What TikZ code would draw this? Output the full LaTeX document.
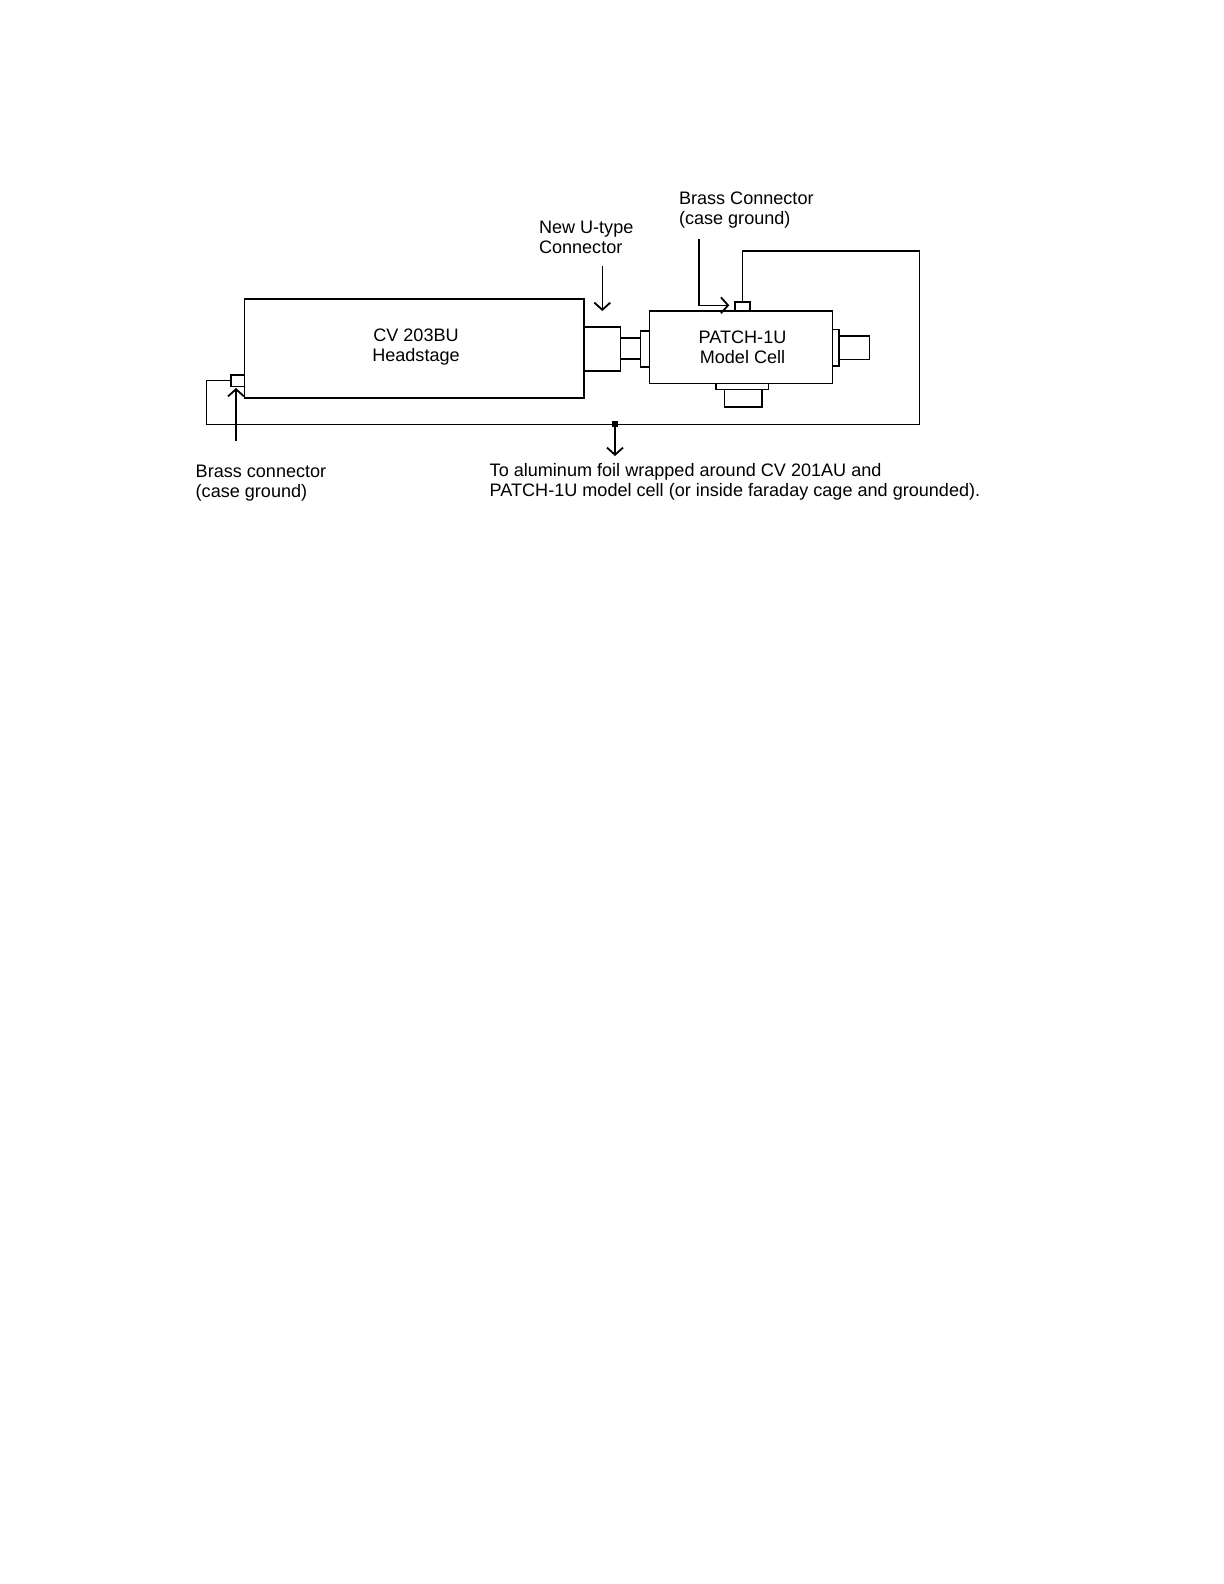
\documentclass[tikz,border=0pt]{standalone}
\usepackage{fontspec}
\setmainfont{Liberation Sans}
\usetikzlibrary{arrows.meta}

\tikzset{
	partbox/.style={draw, line width=0.8pt, fill=white, inner sep=0pt, outer sep=0pt, anchor=north west},
	wire/.style={draw, line width=0.8pt},
	pointer/.style={line width=0.8pt, -{Straight Barb[length=3.6pt, width=8pt, line width=0.9pt]}},
	caption/.style={inner sep=0pt, outer sep=0pt, align=left, anchor=north west, font=\fontsize{9.07}{10.04}\selectfont},
	boxtext/.style={inner sep=0pt, outer sep=0pt, align=center, anchor=north, font=\fontsize{9.07}{10.04}\selectfont}
}
\newcommand{\partat}[5]{\node[partbox, minimum width=#4*0.5bp, minimum height=#5*0.5bp] (#1) at (#2,#3) {};}

\begin{document}
\begin{tikzpicture}[x=0.5bp, y=-0.5bp]
	\useasboundingbox (0,0) rectangle (1224,1584);

	\coordinate (wireSW) at (206.3,424.3);
	\coordinate (wireSE) at (919.3,424.3);
	\coordinate (wireNE) at (919.3,251);

	\partat{head}{244.3}{299}{339.7}{99}
	\partat{ucon}{584}{326.7}{36.3}{44}
	\partat{neck}{620.3}{338}{20}{20.7}
	\partat{lflange}{640.3}{330.7}{9}{36.3}
	\partat{patch}{649.3}{310.7}{183}{72.6}
	\partat{rflange}{832.3}{329.3}{6.7}{36.7}
	\partat{rplug}{839}{335.7}{30.3}{23.6}
	\partat{bflange}{715.7}{383.3}{52.6}{6}
	\partat{bplug}{724.3}{389.3}{37.4}{17.7}
	\partat{headbrass}{231}{375}{13.3}{11.3}
	\partat{patchbrass}{734.7}{301.7}{15.3}{9}

	\draw[wire] (headbrass.west) -| (wireSW) -- (wireSE) -- (wireNE) -| (patchbrass.north);

	\node[fill=black, minimum size=3pt, inner sep=0pt, outer sep=0pt] (foildot) at (615,424.3) {};

	\node[boxtext] (headtext) at (416,329) {CV 203BU\\Headstage};
	\node[boxtext] (patchtext) at (742.5,330.5) {PATCH-1U\\Model Cell};
	\node[caption] (ulabel) at (539,221) {New U-type\\Connector};
	\node[caption] (toplabel) at (679,191.5) {Brass Connector\\(case ground)};
	\node[caption] (leftlabel) at (195.7,465.5) {Brass connector\\(case ground)};
	\node[caption] (foillabel) at (489.7,463.5) {To aluminum foil wrapped around CV 201AU and\\PATCH-1U model cell (or inside faraday cage and grounded).};

	\coordinate (uend) at (602.3,266);
	\coordinate (utip) at (602.3,311);
	\coordinate (topend) at (698.7,239.3);
	\coordinate (toptip) at (729.3,305.3);
	\coordinate (leftend) at (236,440.7);
	\coordinate (lefttip) at (236,388);
	\coordinate (foiltip) at (615,456);

	\draw[pointer] (uend) -- (utip);
	\draw[pointer] (topend) |- (toptip);
	\draw[pointer] (leftend) -- (lefttip);
	\draw[pointer] (foildot) -- (foiltip);
\end{tikzpicture}
\end{document}
